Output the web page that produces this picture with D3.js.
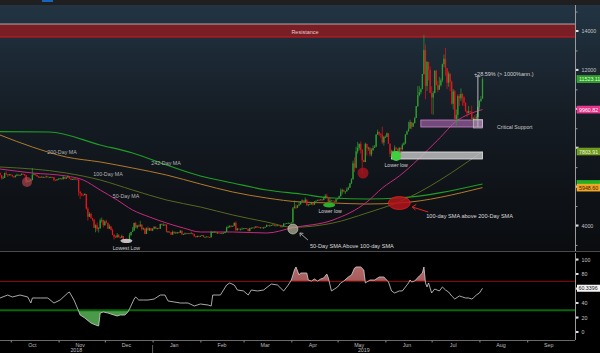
<!DOCTYPE html>
<html><head><meta charset="utf-8">
<script src="https://cdn.jsdelivr.net/npm/d3@7"></script>
<style>html,body{margin:0;padding:0;background:#000;overflow:hidden}svg{display:block;font-family:"Liberation Sans",Arial,sans-serif}</style>
</head><body><svg id="c" width="600" height="353"></svg>
<script>
// ---------- DATA ----------
const startDate = "2018-09-24";
const firstOpen = 6710;
const closes = [
 6590,6440,6450,6690,6630,6590,6630,
 6590,6530,6480,6560,6610,6580,6600,6660,6640,6590,6250,6290,6300,6330,6600,6630,6600,6530,6470,6500,6480,6490,6480,6520,6480,6480,6490,6480,6340,6330,6370,
 6410,6420,6380,6490,6410,6470,6530,6415,6350,6390,6410,6370,6360,5740,5650,5580,5560,5620,4870,4450,4600,4370,4300,3880,4010,3820,3860,4260,4280,4020,
 4210,4140,3840,3950,3760,3510,3420,3390,3500,3400,3370,3460,3280,3220,3190,3220,3510,3670,3730,4130,3900,4000,3950,4050,3810,3850,3570,3860,3750,3860,3740,
 3840,3940,3840,3860,3840,4080,4030,4030,4040,3680,3690,3650,3530,3680,3600,3630,3660,3620,3730,3540,3560,3600,3580,3600,3590,3600,3570,3440,3400,3460,3440,
 3460,3500,3410,3410,3430,3400,3390,3660,3660,3690,3620,3630,3610,3590,3600,3620,3670,3900,3910,3990,3940,3980,4140,3750,3840,3820,3830,3830,
 3850,3860,3830,3710,3860,3880,3890,3880,3950,3930,3880,3900,3890,3890,3930,4020,3990,3990,4020,4050,3990,4000,4010,4000,3940,3950,4100,4100,4130,4130,4130,
 4150,4880,4970,4910,5040,5080,5230,5290,5210,5330,5060,5090,5100,5170,5070,5240,5270,5310,5300,5340,5310,5400,5530,5460,5200,5280,5280,5270,5220,5350,
 5400,5500,5750,5830,5750,5750,5850,5940,6170,6370,7200,6970,7810,7990,8200,7880,7360,7260,8200,7990,8000,7660,7880,7990,8050,8670,8810,8720,8660,8270,8560,
 8560,8740,8210,7690,7780,7810,8000,7950,7630,8000,7920,8150,8230,8690,8840,8980,9320,9080,9270,9530,10140,10700,10860,11010,11790,13020,11180,12410,12000,10820,
 10580,10800,11960,11220,10980,11210,11470,12300,12570,12100,11340,11800,11390,10260,10900,9480,9690,10660,10530,10760,10590,10320,9880,9770,9880,9850,9480,9530,9500,9590,10090,
 10400,10520,11523.11
];
const highs = [
 6730,6590,6540,6720,6790,6630,6650,
 6650,6610,6540,6600,6660,6620,6620,6680,6670,6640,6590,6320,6320,6400,6950,6680,6640,6620,6540,6510,6550,6530,6500,6570,6520,6500,6520,6500,6490,6360,6390,
 6420,6450,6420,6550,6490,6480,6580,6540,6420,6400,6420,6420,6390,6370,5760,5650,5590,5670,5620,4950,4690,4640,4400,4350,4060,4150,3910,4360,4410,4300,
 4260,4300,4140,4060,3960,3840,3560,3490,3610,3560,3420,3530,3460,3300,3240,3270,3620,3670,3920,4150,4190,4030,4050,4240,4050,3900,3850,3900,3950,3890,3860,
 3850,3950,3950,3870,3890,4090,4100,4110,4070,4070,3720,3690,3670,3740,3690,3680,3670,3660,3770,3750,3580,3640,3620,3620,3610,3680,3610,3570,3440,3480,3480,
 3480,3510,3500,3430,3440,3440,3420,3730,3680,3690,3690,3660,3650,3620,3640,3650,3690,3950,4000,4000,4010,3990,4160,4210,3880,3840,3840,3900,
 3870,3860,3870,3840,3880,3900,3910,3950,3970,3950,3940,3910,3910,3930,3940,4060,4020,4040,4030,4060,4060,4010,4020,4010,4010,3960,4110,4100,4130,4160,4140,
 4160,4950,5290,5080,5050,5210,5260,5340,5290,5450,5350,5100,5130,5180,5190,5250,5290,5330,5360,5350,5340,5480,5610,5630,5470,5400,5300,5300,5270,5370,
 5420,5540,5900,5890,5840,5760,5960,6000,6180,6430,7330,7500,8050,8300,8210,8320,7930,7380,8260,8200,8050,8020,7960,8110,8140,8700,8930,8830,8730,9080,8590,
 8630,8780,8740,8210,7900,7870,8120,8030,7950,8020,8000,8220,8300,8690,8880,9330,9440,9330,9300,9570,10140,11160,11180,11060,11790,13800,13310,12450,12410,12180,
 11160,10910,11970,12000,11440,11640,11570,12320,12790,13130,12080,11920,11840,11450,11020,10970,9970,10740,10750,11050,10800,10640,10320,9920,10150,9880,10160,9590,9680,9730,10110,
 10450,10660,11620
];
const lows = [
 6570,6360,6420,6440,6600,6500,6560,
 6560,6500,6450,6480,6540,6560,6550,6580,6620,6530,6180,6250,6270,6290,6330,6590,6570,6500,6450,6460,6470,6470,6450,6470,6470,6460,6470,6460,6270,6310,6300,
 6350,6400,6360,6370,6390,6390,6460,6400,6330,6350,6340,6360,6340,5530,5360,5500,5510,5560,4820,4250,4450,4360,4220,3860,3650,3720,3640,3840,4140,3900,
 3980,4110,3820,3830,3750,3500,3280,3350,3390,3390,3330,3370,3270,3180,3160,3190,3220,3470,3660,3740,3860,3830,3930,3950,3740,3770,3550,3570,3750,3720,3710,
 3710,3810,3820,3790,3840,3820,4010,3990,4010,3650,3630,3620,3500,3530,3580,3600,3570,3590,3620,3530,3520,3520,3560,3570,3560,3590,3530,3430,3380,3400,3430,
 3430,3460,3400,3400,3410,3390,3390,3390,3640,3630,3610,3580,3600,3580,3590,3610,3610,3670,3880,3900,3910,3930,3970,3740,3750,3800,3740,3810,
 3830,3820,3810,3700,3700,3850,3880,3850,3880,3910,3870,3850,3880,3840,3890,3930,3970,3970,3990,4010,3960,3980,3990,3990,3900,3920,3950,4080,4090,4110,4110,
 4120,4150,4900,4840,4910,5000,5080,5210,5150,5200,5000,4990,5070,5060,5030,5060,5230,5270,5270,5290,5240,5290,5400,5440,5080,5190,5260,5260,5180,5200,
 5340,5390,5490,5600,5700,5620,5760,5820,5940,6130,6370,6750,6940,7690,7870,7700,6640,7260,7260,7600,7850,7560,7560,7830,7990,8030,8670,8610,8500,8200,8110,
 8510,8540,8200,7510,7580,7450,7800,7860,7590,7620,7720,7860,8130,8190,8650,8840,8980,8950,9070,9240,9530,10090,10640,10750,11010,11750,10490,10920,11460,10800,
 9730,9700,10830,11200,10860,10990,11150,11370,12150,11700,11020,11130,10910,10210,9970,9450,9080,9330,10140,10400,10160,10150,9850,9580,9780,9760,9400,9240,9460,9410,9560,
 9950,10350,10520
];
// moving averages: day offsets from startDate, values
const ma242Days = [0,32,65,86,108,130,151,173,195,216,238,259,313];
const ma242Vals = [8823,8807,8139,7727,7111,6545,6185,5825,5620,5414,5362,5414,6134];
const ma200Days = [0,21,43,65,86,108,130,151,173,195,216,238,259,313];
const ma200Vals = [8653,8036,7522,7265,6956,6596,6134,5722,5414,5208,5157,5105,5157,5948.60];
const ma100Days = [0,43,65,86,108,130,151,173,190,216,238,259,313];
const ma100Vals = [7008,6699,6339,5825,5311,4951,4540,4180,3910,4129,4643,5220,7803.91];
const ma50Days = [0,21,43,54,65,76,86,97,108,119,130,151,173,190,216,238,248,259,284,297,303,313];
const ma50Vals = [6905,6699,6545,6339,5825,5311,4797,4437,4129,3871,3666,3666,3614,3890,4283,5208,5928,6545,8396,9424,9681,9960.82];
// RSI
const rsiDays = [0,5,8,13,18,20,21,26,31,35,39,44,45,48,51,52,55,59,62,64,65,67,70,74,76,78,81,83,84,87,88,90,93,96,100,104,107,109,113,117,122,126,130,135,137,138,143,147,149,152,154,158,161,163,167,171,176,180,184,187,189,191,192,194,195,199,200,202,204,206,208,210,212,213,215,217,219,221,223,226,228,230,231,234,236,237,238,240,243,246,248,249,252,254,256,259,261,262,265,266,267,269,272,274,275,276,277,278,280,282,285,287,289,291,293,295,298,300,302,304,306,307,309,311,313];
const rsiVals = [46.9,51.0,48.3,51.0,48.3,40.0,46.9,46.9,46.9,40.0,44.1,53.8,55.2,44.1,29.0,23.4,19.3,12.4,9.7,8.3,26.2,27.6,26.2,23.4,22.1,23.4,23.4,27.6,31.7,45.5,48.3,44.1,44.1,44.1,45.5,51.0,51.0,42.8,41.4,40.0,40.0,35.9,38.6,37.2,35.9,51.0,51.0,64.8,67.6,64.8,57.9,56.6,51.0,57.9,56.6,57.9,66.2,64.8,56.6,64.8,71.7,85.5,89.7,78.6,81.4,81.4,71.7,70.3,73.1,70.3,73.1,74.5,80.0,74.5,56.6,59.3,62.1,67.6,70.3,75.9,78.6,88.3,89.7,89.7,85.5,67.6,69.0,71.7,71.7,75.9,75.9,75.9,69.0,56.6,53.8,56.6,56.6,59.3,67.6,71.7,69.0,70.3,77.2,81.4,89.7,67.6,62.1,67.6,53.8,59.3,56.6,62.1,57.9,55.2,49.7,45.5,49.7,48.3,46.9,46.9,45.5,46.9,51.0,53.8,60.3396];
const monthLabels = ["Oct","Nov","Dec","Jan","Feb","Mar","Apr","May","Jun","Jul","Aug","Sep"];
const yearLabels = ["2018","2019"];
const priceTicks = [3000,4000,5000,6000,7000,8000,9000,10000,11000,12000,13000,14000,15000];
const rsiTicks = [0,20,40,60,80,100];
const resistance = [13690,14360];
const criticalSupport = [9064,9424];
const lowerLowZone = [7420,7780];
const measure = [9064,11655];

// ---------- SCALES ----------
const start = new Date(startDate + "T00:00:00Z");
const x = d3.scaleUtc().domain([start, new Date(Date.UTC(2019,9,2))]).range([0,575]);
const xd = d => x(new Date(start.getTime() + d*86400000));
const y = d3.scaleLinear().domain([2689,15337]).range([251,5]);
const ry = d3.scaleLinear().domain([0,100]).range([332,259.5]);

const svg = d3.select("#c");
const defs = svg.append("defs");
const bg = defs.append("linearGradient").attr("id","bgMain").attr("x1",0).attr("y1",0).attr("x2",0).attr("y2",1);
bg.append("stop").attr("offset","0%").attr("stop-color","#223443");
bg.append("stop").attr("offset","45%").attr("stop-color","#151c24");
bg.append("stop").attr("offset","100%").attr("stop-color","#0a0c0f");
const rg = defs.append("linearGradient").attr("id","rsiRed").attr("x1",0).attr("y1",0).attr("x2",0).attr("y2",1);
rg.append("stop").attr("offset","0%").attr("stop-color","#b56a6a");
rg.append("stop").attr("offset","100%").attr("stop-color","#6e2828");
defs.append("clipPath").attr("id","clipAbove").append("rect").attr("x",0).attr("y",253).attr("width",575).attr("height",ry(70)-253);
defs.append("clipPath").attr("id","clipBelow").append("rect").attr("x",0).attr("y",ry(30)).attr("width",575).attr("height",340-ry(30));
defs.append("clipPath").attr("id","clipMain").append("rect").attr("x",0).attr("y",5).attr("width",575).attr("height",246);

// backgrounds
svg.append("rect").attr("width",600).attr("height",353).attr("fill","#000");
svg.append("rect").attr("width",600).attr("height",5).attr("fill","#1f1f1f");
svg.append("rect").attr("x",42).attr("y",0).attr("width",11).attr("height",2).attr("fill","#1565c0");
svg.append("rect").attr("x",0).attr("y",5).attr("width",600).attr("height",246).attr("fill","url(#bgMain)");
svg.append("line").attr("x1",0).attr("x2",600).attr("y1",251.5).attr("y2",251.5).attr("stroke","#4a4a4a");

const main = svg.append("g").attr("clip-path","url(#clipMain)");

// resistance band
main.append("rect").attr("x",0).attr("width",575).attr("y",y(resistance[1])).attr("height",y(resistance[0])-y(resistance[1])).attr("fill","#7a1e25");
main.append("line").attr("x1",0).attr("x2",575).attr("y1",y(resistance[1])).attr("y2",y(resistance[1])).attr("stroke","#b8b8b8").attr("stroke-width",0.9);
main.append("line").attr("x1",0).attr("x2",575).attr("y1",y(resistance[0])).attr("y2",y(resistance[0])).attr("stroke","#d8141c").attr("stroke-width",1.1);
main.append("text").attr("x",305).attr("y",y(resistance[0])-3.5).attr("text-anchor","middle").attr("font-size",5.5).attr("fill","#e6c8c8").text("Resistance");

// moving averages
const maLine = d3.line().x(d=>xd(d[0])).y(d=>y(d[1])).curve(d3.curveMonotoneX);
const mas = [
  {days:ma242Days, vals:ma242Vals, color:"#1f9e24", w:1.2},
  {days:ma200Days, vals:ma200Vals, color:"#b07a2a", w:1},
  {days:ma100Days, vals:ma100Vals, color:"#56681e", w:1},
  {days:ma50Days, vals:ma50Vals, color:"#c42a7f", w:1}
];
mas.forEach(m=>{
  main.append("path").datum(m.days.map((d,i)=>[d,m.vals[i]])).attr("d",maLine)
    .attr("fill","none").attr("stroke",m.color).attr("stroke-width",m.w);
});
// MA labels
const maLab = main.append("g").attr("font-size",5.3).attr("fill","#b4b4b4").attr("text-anchor","middle");
maLab.append("text").attr("x",62).attr("y",154).text("200-Day MA");
maLab.append("text").attr("x",166).attr("y",165).text("242-Day MA");
maLab.append("text").attr("x",108).attr("y",176).text("100-Day MA");
maLab.append("text").attr("x",126).attr("y",198).text("50-Day MA");

// zone boxes
main.append("rect").attr("x",xd(254)).attr("width",xd(313)-xd(254)).attr("y",y(lowerLowZone[1])).attr("height",y(lowerLowZone[0])-y(lowerLowZone[1]))
  .attr("fill","#c4c4c4").attr("fill-opacity",0.82).attr("stroke","#e8e8e8").attr("stroke-width",0.8);
main.append("rect").attr("x",xd(273)).attr("width",xd(313)-xd(273)).attr("y",y(criticalSupport[1])).attr("height",y(criticalSupport[0])-y(criticalSupport[1]))
  .attr("fill","#b26ab8").attr("fill-opacity",0.6).attr("stroke","#cf86cf").attr("stroke-width",0.8);

// candles
const candles = closes.map((c,i)=>({d:i, o: i? closes[i-1] : firstOpen, c, h:highs[i], l:lows[i]}));
const cg = main.append("g");
candles.forEach(k=>{
  const col = k.c >= k.o ? "#2f9e2f" : "#e3161b";
  const cx = xd(k.d);
  cg.append("line").attr("x1",cx).attr("x2",cx).attr("y1",y(k.h)).attr("y2",y(k.l)).attr("stroke",col).attr("stroke-width",0.7);
  const top = y(Math.max(k.o,k.c)), bot = y(Math.min(k.o,k.c));
  cg.append("rect").attr("x",cx-0.65).attr("width",1.3).attr("y",top).attr("height",Math.max(0.8,bot-top)).attr("fill",col);
});

// critical support end marker & measure tool
main.append("rect").attr("x",xd(307)).attr("width",xd(313)-xd(307)).attr("y",y(criticalSupport[1])-0.5).attr("height",y(criticalSupport[0])-y(criticalSupport[1])+1.5)
  .attr("fill","#d8d8d8").attr("fill-opacity",0.3).attr("stroke","#d0d0d0").attr("stroke-width",0.6);
const mx = xd(310);
main.append("line").attr("x1",mx).attr("x2",mx).attr("y1",y(measure[1])).attr("y2",y(measure[0])).attr("stroke","#b8b8b8").attr("stroke-width",1);
main.append("line").attr("x1",mx-2.5).attr("x2",mx+2.5).attr("y1",y(measure[1])).attr("y2",y(measure[1])).attr("stroke","#b8b8b8").attr("stroke-width",0.8);
main.append("text").attr("x",mx-4).attr("y",y(measure[1])-1).attr("font-size",5.5).attr("fill","#d0d0d0").text("+28.59% (> 1000%ann.)");
main.append("text").attr("x",497).attr("y",y(criticalSupport[0])+2).attr("font-size",5.2).attr("fill","#c8c8c8").text("Critical Support");

// annotation markers
const ann = main.append("g");
ann.append("circle").attr("cx",xd(17.5)).attr("cy",y(6240)).attr("r",5).attr("fill","#c44a58").attr("fill-opacity",0.6);
ann.append("ellipse").attr("cx",xd(82)).attr("cy",y(3210)).attr("rx",6).attr("ry",2.2).attr("fill","#dcdcdc").attr("fill-opacity",0.85);
ann.append("text").attr("x",xd(82)).attr("y",250).attr("text-anchor","middle").attr("font-size",5.2).attr("fill","#cfcfcf").text("Lowest Low");
ann.append("circle").attr("cx",xd(190)).attr("cy",y(3820)).attr("r",5).attr("fill","#b8b89a").attr("fill-opacity",0.7).attr("stroke","#d8d8c0").attr("stroke-width",0.6);
ann.append("ellipse").attr("cx",xd(213.5)).attr("cy",y(5054)).attr("rx",6).attr("ry",2.4).attr("fill","#2bb02b");
ann.append("text").attr("x",xd(213.5)+1).attr("y",y(5054)+8).attr("text-anchor","middle").attr("font-size",5.2).attr("fill","#cfcfcf").text("Lower low");
ann.append("circle").attr("cx",xd(235.5)).attr("cy",y(6700)).attr("r",5.5).attr("fill","#a8141e").attr("fill-opacity",0.8);
ann.append("circle").attr("cx",xd(257)).attr("cy",y(7573)).attr("r",5).attr("fill","#3fcf3f");
ann.append("text").attr("x",xd(257)).attr("y",y(7573)+11).attr("text-anchor","middle").attr("font-size",5.2).attr("fill","#cfcfcf").text("Lower low");
ann.append("ellipse").attr("cx",xd(259)).attr("cy",y(5157)).attr("rx",11).attr("ry",6.5).attr("fill","#b3141b").attr("fill-opacity",0.85).attr("stroke","#e02020").attr("stroke-width",0.8);
// arrows
const ex = xd(259), ey = y(5157);
ann.append("path").attr("d",`M${ex+29},${ey+9}L${ex+13},${ey+4}M${ex+13},${ey+4}l4,-2.6M${ex+13},${ey+4}l3.2,3`).attr("stroke","#e02424").attr("stroke-width",1).attr("fill","none");
ann.append("text").attr("x",ex+27).attr("y",ey+15).attr("font-size",5.6).attr("fill","#dadada").text("100-day SMA above 200-Day SMA");
const gx = xd(190), gy = y(3820);
ann.append("path").attr("d",`M${gx+15},${gy+11}L${gx+7},${gy+4}M${gx+7},${gy+4}l3.5,0.4M${gx+7},${gy+4}l0.5,3.4`).attr("stroke","#b0b0b0").attr("stroke-width",0.9).attr("fill","none");
ann.append("text").attr("x",gx+17).attr("y",gy+19).attr("font-size",5.6).attr("fill","#dadada").text("50-Day SMA Above 100-day SMA");

// value tags (last values)
const tags = [
  {v: closes[closes.length-1], fill:"#2f9c2a", stroke:"#46c43c", text:"#dfffd8", label:true},
  {v: ma50Vals[ma50Vals.length-1], fill:"#ec2c8c", stroke:"#ff5aa8", text:"#ffffff", label:true},
  {v: ma100Vals[ma100Vals.length-1], fill:"#6c981c", stroke:"#86b22c", text:"#f0f6dc", label:true},
  {v: ma242Vals[ma242Vals.length-1], fill:"#22b022", stroke:"#30d030", text:"#eaffea", label:false},
  {v: ma200Vals[ma200Vals.length-1], fill:"#f0a224", stroke:"#ffba40", text:"#3a2200", label:true}
];
const tagYs = tags.map(t=>y(t.v));
const hidden = v => tagYs.some(ty => Math.abs(ty - y(v)) < 6);

// price axis
svg.append("line").attr("x1",575.5).attr("x2",575.5).attr("y1",5).attr("y2",251).attr("stroke","#9a9a9a");
const pa = svg.append("g").attr("transform","translate(575.5,0)")
  .call(d3.axisRight(y).tickValues(priceTicks).tickSize(2).tickPadding(4).tickFormat(v => (v%2000===0 && !hidden(v)) ? String(v) : ""));
pa.select(".domain").remove();
pa.selectAll("line").attr("stroke","#9a9a9a");
pa.selectAll("text").attr("font-size",5.3).attr("fill","#c4c4c4").attr("font-family","Liberation Sans, Arial, sans-serif");
priceTicks.filter(v=>v%2000===0).forEach(v=>svg.append("rect").attr("x",576).attr("y",y(v)-1).attr("width",2.5).attr("height",2).attr("fill","#e0e0e0"));

tags.forEach(t=>{
  const ty = y(t.v);
  svg.append("rect").attr("x",577).attr("y",ty-3.5).attr("width",23).attr("height",7).attr("fill",t.fill).attr("stroke",t.stroke).attr("stroke-width",0.5);
  if (t.label) svg.append("text").attr("x",579).attr("y",ty+2).attr("font-size",5.3).attr("fill",t.text).text(t.v.toFixed(2));
});

// ---------- RSI PANEL ----------
const rsiData = rsiDays.map((d,i)=>[d,rsiVals[i]]);
const rsiArea = (base)=>d3.area().x(d=>xd(d[0])).y0(ry(base)).y1(d=>ry(d[1]));
svg.append("path").datum(rsiData).attr("d",rsiArea(70)).attr("fill","url(#rsiRed)").attr("clip-path","url(#clipAbove)");
svg.append("path").datum(rsiData).attr("d",rsiArea(30)).attr("fill","#4a9a4a").attr("clip-path","url(#clipBelow)");
svg.append("line").attr("x1",0).attr("x2",575).attr("y1",ry(70)).attr("y2",ry(70)).attr("stroke","#8e1212").attr("stroke-width",1);
svg.append("line").attr("x1",0).attr("x2",575).attr("y1",ry(30)).attr("y2",ry(30)).attr("stroke","#0b650b").attr("stroke-width",2);
svg.append("path").datum(rsiData).attr("d",d3.line().x(d=>xd(d[0])).y(d=>ry(d[1]))).attr("fill","none").attr("stroke","#d2d2d2").attr("stroke-width",0.8);

const lastR = rsiVals[rsiVals.length-1];
svg.append("line").attr("x1",575.5).attr("x2",575.5).attr("y1",253).attr("y2",340).attr("stroke","#9a9a9a");
const ra = svg.append("g").attr("transform","translate(575.5,0)")
  .call(d3.axisRight(ry).tickValues(rsiTicks).tickSize(2).tickPadding(4).tickFormat(v => Math.abs(ry(v)-ry(lastR)) < 6 ? "" : d3.format("d")(v)));
ra.select(".domain").remove();
ra.selectAll("line").attr("stroke","#9a9a9a");
ra.selectAll("text").attr("font-size",5.3).attr("fill","#c4c4c4").attr("font-family","Liberation Sans, Arial, sans-serif");
rsiTicks.forEach(v=>svg.append("rect").attr("x",576).attr("y",ry(v)-1).attr("width",2.5).attr("height",2).attr("fill","#e0e0e0"));
svg.append("rect").attr("x",577).attr("y",ry(lastR)-3.5).attr("width",23).attr("height",7).attr("fill","#f4f4f4");
svg.append("text").attr("x",578.5).attr("y",ry(lastR)+2).attr("font-size",5.3).attr("fill","#111").text(lastR.toFixed(4));

// ---------- TIME AXIS ----------
svg.append("line").attr("x1",0).attr("x2",575).attr("y1",340.5).attr("y2",340.5).attr("stroke","#6a6a6a");
const months = d3.utcMonth.range(new Date(Date.UTC(2018,9,1)), new Date(Date.UTC(2019,9,1)));
const xa = svg.append("g").attr("transform","translate(0,340.5)")
  .call(d3.axisBottom(x).tickValues(months).tickSize(2).tickFormat(""));
xa.select(".domain").remove();
xa.selectAll("line").attr("stroke","#8a8a8a");
months.forEach((m,i)=>{
  svg.append("text").attr("x",x(d3.utcDay.offset(m,14))).attr("y",346.5).attr("text-anchor","middle")
    .attr("font-size",5.3).attr("fill","#bdbdbd").text(monthLabels[i]);
});
const y2019 = x(new Date(Date.UTC(2019,0,1)));
svg.append("line").attr("x1",y2019).attr("x2",y2019).attr("y1",345).attr("y2",353).attr("stroke","#7a7a7a").attr("stroke-width",0.8);
svg.append("text").attr("x",y2019/2).attr("y",351.5).attr("text-anchor","middle").attr("font-size",5.3).attr("fill","#bdbdbd").text(yearLabels[0]);
svg.append("text").attr("x",(y2019+575)/2).attr("y",351.5).attr("text-anchor","middle").attr("font-size",5.3).attr("fill","#bdbdbd").text(yearLabels[1]);
</script>
</body></html>
